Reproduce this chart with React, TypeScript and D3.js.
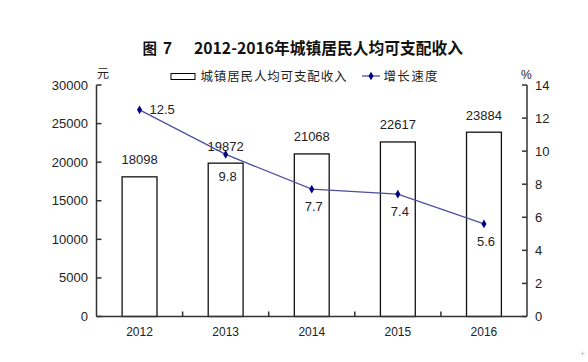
import React from "react";
import * as d3 from "d3";

const years = ["2012", "2013", "2014", "2015", "2016"];
const income = [18098, 19872, 21068, 22617, 23884];
const growth = [12.5, 9.8, 7.7, 7.4, 5.6];
const leftTicks = [0, 5000, 10000, 15000, 20000, 25000, 30000];
const rightTicks = [0, 2, 4, 6, 8, 10, 12, 14];

const W = 588;
const H = 362;
const left = 96.5;
const right = 527;
const bottom = 316.5;
const top = 85;
const numFont = "'Liberation Sans', Arial, 'Noto Sans CJK SC', sans-serif";
const cjkFont = "'Noto Sans CJK SC', 'Liberation Sans', sans-serif";

export default function App() {
  const x = d3.scaleBand<string>().domain(years).range([left, right]).padding(0);
  const yL = d3.scaleLinear().domain([0, 30000]).range([bottom, top]);
  const yR = d3.scaleLinear().domain([0, 14]).range([bottom, top]);
  const barW = x.bandwidth() * 0.405;
  const cx = (y: string) => (x(y) as number) + x.bandwidth() / 2;

  const linePath = d3
    .line<number>()
    .x((_, i) => cx(years[i]))
    .y((d) => yR(d))(growth) as string;

  const diamond = d3.symbol().type(d3.symbolDiamond).size(22)() as string;
  const axisColor = "#333";
  const textColor = "#222";

  return (
    <svg
      width={W}
      height={H}
      style={{ position: "absolute", left: 0, top: 0, background: "#fff" }}
    >
      {/* title */}
      <g fontFamily={cjkFont} fontWeight="bold" fill="#111">
        <text x={142.5} y={54} fontSize={14.5}>图</text>
        <text x={163} y={54} fontSize={16} fontFamily={numFont}>7</text>
        <text x={194} y={54} fontSize={16} textLength={269} lengthAdjust="spacingAndGlyphs">
          2012-2016年城镇居民人均可支配收入
        </text>
      </g>

      {/* legend */}
      <rect x={171} y={73.5} width={24} height={6} fill="#fff" stroke="#000" strokeWidth={1} />
      <text x={200.5} y={80.5} fontSize={12.5} fontFamily={cjkFont} fill={textColor} textLength={146}>
        城镇居民人均可支配收入
      </text>
      <line x1={362} x2={380} y1={76} y2={76} stroke="#4f4f9f" strokeWidth={1.3} />
      <path d={diamond} transform="translate(371,76)" fill="#000080" />
      <text x={383.5} y={80.5} fontSize={12.5} fontFamily={cjkFont} fill={textColor} textLength={54}>
        增长速度
      </text>

      {/* unit labels */}
      <text x={97} y={78} fontSize={12} fontFamily={cjkFont} fill={textColor}>元</text>
      <text x={521} y={79} fontSize={12} fontFamily={numFont} fill={textColor}>%</text>

      {/* bars */}
      {years.map((y, i) => (
        <rect
          key={y}
          x={cx(y) - barW / 2}
          y={yL(income[i])}
          width={barW}
          height={bottom - yL(income[i])}
          fill="#fff"
          stroke="#111"
          strokeWidth={1.3}
        />
      ))}

      {/* axes */}
      <g stroke={axisColor} strokeWidth={1.5} fill="none">
        <line x1={left} x2={left} y1={top} y2={bottom} />
        <line x1={right} x2={right} y1={top} y2={bottom} />
        <line x1={left} x2={right} y1={bottom} y2={bottom} />
        {leftTicks.map((t) => (
          <line key={"l" + t} x1={left} x2={left + 5} y1={yL(t)} y2={yL(t)} />
        ))}
        {rightTicks.map((t) => (
          <line key={"r" + t} x1={right - 5} x2={right} y1={yR(t)} y2={yR(t)} />
        ))}
        {years.slice(1).map((y) => (
          <line key={"b" + y} x1={x(y) as number} x2={x(y) as number} y1={bottom} y2={bottom - 5} />
        ))}
      </g>

      {/* tick labels */}
      <g fontFamily={numFont} fontSize={13} fill={textColor}>
        {leftTicks.map((t) => (
          <text key={"lt" + t} x={88} y={yL(t) + 4.5} textAnchor="end">
            {t}
          </text>
        ))}
        {rightTicks.map((t) => (
          <text key={"rt" + t} x={535} y={yR(t) + 4.5} textAnchor="start">
            {t}
          </text>
        ))}
      </g>
      <g fontFamily={numFont} fontSize={12} fill={textColor}>
        {years.map((y) => (
          <text key={"xt" + y} x={cx(y)} y={336} textAnchor="middle">
            {y}
          </text>
        ))}
      </g>

      {/* bar value labels */}
      <g fontFamily={numFont} fontSize={13} fill={textColor}>
        {years.map((y, i) => (
          <text key={"bv" + y} x={cx(y)} y={yL(income[i]) - 12.5} textAnchor="middle">
            {income[i]}
          </text>
        ))}
      </g>

      {/* growth line */}
      <path d={linePath} fill="none" stroke="#4f4f9f" strokeWidth={1.3} />
      {growth.map((g, i) => (
        <path key={"m" + i} d={diamond} transform={`translate(${cx(years[i])},${yR(g)})`} fill="#000080" />
      ))}
      <g fontFamily={numFont} fontSize={13} fill={textColor}>
        {growth.map((g, i) =>
          i === 0 ? (
            <text key={"gl" + i} x={cx(years[i]) + 10} y={yR(g) + 4.5} textAnchor="start">
              {g.toFixed(1)}
            </text>
          ) : (
            <text key={"gl" + i} x={cx(years[i]) + 2} y={yR(g) + (i === 1 ? 27 : 22)} textAnchor="middle">
              {g.toFixed(1)}
            </text>
          )
        )}
      </g>

      <text x={580} y={357} fontSize={9} fill="#bbb" fontFamily={numFont}>+</text>
    </svg>
  );
}
